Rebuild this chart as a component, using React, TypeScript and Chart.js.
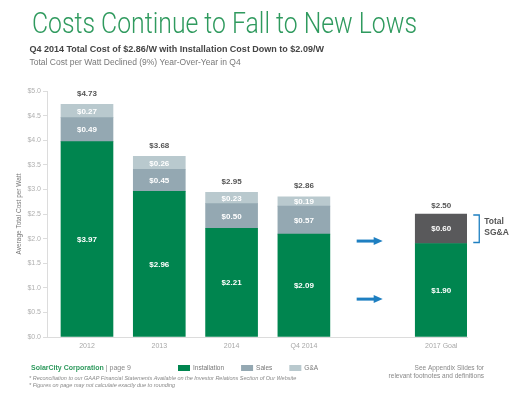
import React, { useEffect, useRef } from 'react';
import { Chart, registerables } from 'chart.js';

Chart.register(...registerables);

// ---- data ----
const categories = ['2012', '2013', '2014', 'Q4 2014', '2017 Goal'];
const installation = [3.97, 2.96, 2.21, 2.09, 1.9];
const sales = [0.49, 0.45, 0.5, 0.57];
const gAndA = [0.27, 0.26, 0.23, 0.19];
const sgaGoal = [0.6];
const totalLabels = ['$4.73', '$3.68', '$2.95', '$2.86', '$2.50'];
const arrowLevels = [1.95, 0.77];

// ---- layout (category placement on the linear axis) ----
const xPositions = [0, 1, 2, 3, 4.9];
const GOAL_INDEX = 4;

const SANS = '"Liberation Sans", Arial, Helvetica, sans-serif';
const GREEN = '#00854f';
const SALES = '#94a8b2';
const GA = '#b9c9ce';
const SGA = '#59595b';
const BLUE = '#1e7fc1';

const overlayPlugin = {
  id: 'overlay',
  afterDatasetsDraw(chart: any) {
    const ctx = chart.ctx as CanvasRenderingContext2D;
    const xs = chart.scales.x;
    const ys = chart.scales.y;
    ctx.save();
    const tops: number[] = categories.map(() => Infinity);
    chart.data.datasets.forEach((ds: any, di: number) => {
      const meta = chart.getDatasetMeta(di);
      meta.data.forEach((el: any, i: number) => {
        const pt = ds.data[i];
        const ci = xPositions.indexOf(pt.x);
        const p = el.getProps(['x', 'y', 'base'], true);
        tops[ci] = Math.min(tops[ci], p.y);
        ctx.fillStyle = '#ffffff';
        ctx.font = `bold 8px ${SANS}`;
        ctx.textAlign = 'center';
        ctx.textBaseline = 'middle';
        ctx.fillText('$' + pt.y.toFixed(2), p.x, (p.y + p.base) / 2 + 0.5);
      });
    });
    // totals
    totalLabels.forEach((t, i) => {
      const px = xs.getPixelForValue(xPositions[i]);
      ctx.fillStyle = '#555555';
      ctx.font = `bold 8px ${SANS}`;
      ctx.textAlign = 'center';
      ctx.textBaseline = 'middle';
      ctx.fillText(t, px, tops[i] - (i === GOAL_INDEX ? 8 : 10.5));
    });
    // arrows
    ctx.strokeStyle = BLUE;
    ctx.fillStyle = BLUE;
    arrowLevels.forEach((lv) => {
      const y = ys.getPixelForValue(lv);
      const x0 = xs.getPixelForValue(3.73);
      const x1 = xs.getPixelForValue(4.09);
      ctx.lineWidth = 3;
      ctx.beginPath();
      ctx.moveTo(x0, y);
      ctx.lineTo(x1 - 7, y);
      ctx.stroke();
      ctx.beginPath();
      ctx.moveTo(x1, y);
      ctx.lineTo(x1 - 9, y - 4);
      ctx.lineTo(x1 - 9, y + 4);
      ctx.closePath();
      ctx.fill();
    });
    // bracket around SG&A
    const gx = xs.getPixelForValue(xPositions[GOAL_INDEX]);
    const yTop = ys.getPixelForValue(installation[GOAL_INDEX] + sgaGoal[0]);
    const yBot = ys.getPixelForValue(installation[GOAL_INDEX]);
    const bx0 = gx + 32;
    const bx1 = gx + 38;
    ctx.lineWidth = 1.3;
    ctx.beginPath();
    ctx.moveTo(bx0, yTop + 1);
    ctx.lineTo(bx1, yTop + 1);
    ctx.lineTo(bx1, yBot - 1);
    ctx.lineTo(bx0, yBot - 1);
    ctx.stroke();
    ctx.fillStyle = '#555555';
    ctx.font = `bold 8.5px ${SANS}`;
    ctx.textAlign = 'left';
    ctx.textBaseline = 'middle';
    ctx.fillText('Total', bx1 + 5, yTop + 8);
    ctx.fillText('SG&A', bx1 + 5, yTop + 19);
    ctx.restore();
  },
  afterDraw(chart: any) {
    const ctx = chart.ctx as CanvasRenderingContext2D;
    ctx.save();
    ctx.textBaseline = 'alphabetic';
    ctx.textAlign = 'left';
    // header title, fitted to the reference width
    const title = 'Costs Continue to Fall to New Lows';
    ctx.fillStyle = '#2f9a5e';
    ctx.font = `300 30px Roboto, ${SANS}`;
    const tw = ctx.measureText(title).width;
    const sx = 385 / tw;
    ctx.save();
    ctx.translate(32, 33);
    ctx.scale(sx, 1);
    ctx.fillText(title, 0, 0);
    ctx.restore();

    ctx.fillStyle = '#444444';
    ctx.font = `bold 9px ${SANS}`;
    ctx.fillText('Q4 2014 Total Cost of $2.86/W with Installation Cost Down to $2.09/W', 29.5, 51.5);
    ctx.fillStyle = '#777777';
    ctx.font = `8.5px ${SANS}`;
    ctx.fillText('Total Cost per Watt Declined (9%) Year-Over-Year in Q4', 29.5, 64.5);

    // footer left
    ctx.fillStyle = '#2f9a5e';
    ctx.font = `bold 7px ${SANS}`;
    const brand = 'SolarCity Corporation';
    ctx.fillText(brand, 31, 370);
    const bw = ctx.measureText(brand).width;
    ctx.fillStyle = '#888888';
    ctx.font = `7px ${SANS}`;
    ctx.fillText('| page 9', 31 + bw + 2, 370);
    ctx.font = `italic 5.5px ${SANS}`;
    ctx.fillText('* Reconciliation to our GAAP Financial Statements Available on the Investor Relations Section of Our Website', 29, 379.5);
    ctx.fillText('* Figures on page may not calculate exactly due to rounding', 29, 387);

    // footer right
    ctx.textAlign = 'right';
    ctx.font = `6.5px ${SANS}`;
    ctx.fillText('See Appendix Slides for', 484, 370);
    ctx.fillText('relevant footnotes and definitions', 484, 378);

    // legend (from datasets, goal-only series excluded)
    ctx.textAlign = 'left';
    ctx.textBaseline = 'middle';
    ctx.font = `6.5px ${SANS}`;
    let lx = 178;
    const ly = 368;
    chart.data.datasets.slice(0, 3).forEach((ds: any) => {
      ctx.fillStyle = ds.backgroundColor;
      ctx.fillRect(lx, ly - 3, 12, 6);
      ctx.fillStyle = '#777777';
      ctx.fillText(ds.label, lx + 15, ly + 0.5);
      lx += 15 + ctx.measureText(ds.label).width + 17;
    });
    ctx.restore();
  },
};

export default function App() {
  const ref = useRef<HTMLCanvasElement | null>(null);
  useEffect(() => {
    document.body.style.margin = '0';
    const canvas = ref.current;
    if (!canvas) return;
    const toPts = (arr: number[], offset = 0) =>
      arr.map((v, i) => ({ x: xPositions[i + offset], y: v }));
    const chart = new Chart(canvas, {
      type: 'bar',
      data: {
        datasets: [
          { label: 'Installation', data: toPts(installation), backgroundColor: GREEN, barThickness: 52 },
          { label: 'Sales', data: toPts(sales), backgroundColor: SALES, barThickness: 52 },
          { label: 'G&A', data: toPts(gAndA), backgroundColor: GA, barThickness: 52 },
          { label: 'SG&A', data: toPts(sgaGoal, GOAL_INDEX), backgroundColor: SGA, barThickness: 52 },
        ],
      } as any,
      options: {
        responsive: false,
        animation: false,
        devicePixelRatio: 1,
        layout: { padding: { left: 12, right: 51, top: 91, bottom: 42 } },
        plugins: { legend: { display: false }, tooltip: { enabled: false }, title: { display: false } },
        scales: {
          x: {
            type: 'linear',
            stacked: true,
            offset: false,
            min: -0.553,
            max: 5.256,
            afterBuildTicks: (s: any) => {
              s.ticks = xPositions.map((v) => ({ value: v }));
            },
            afterFit: (s: any) => {
              s.height = 20;
            },
            ticks: {
              autoSkip: false,
              maxRotation: 0,
              padding: 5,
              color: '#a8a8a8',
              font: { size: 7, family: SANS },
              callback: (_v: any, i: number) => categories[i],
            },
            grid: { drawOnChartArea: false, drawTicks: false, color: '#dcdcdc' },
            border: { display: true, color: '#dcdcdc' },
          },
          y: {
            stacked: true,
            min: 0,
            max: 5,
            afterFit: (s: any) => {
              s.width = 35;
            },
            ticks: {
              stepSize: 0.5,
              padding: 2,
              color: '#b0b0b0',
              font: { size: 7, family: SANS },
              callback: (v: any) => '$' + Number(v).toFixed(1),
            },
            grid: { drawOnChartArea: false, drawTicks: true, tickLength: 4, color: '#dcdcdc' },
            border: { display: true, color: '#dcdcdc' },
            title: {
              display: true,
              text: 'Average Total Cost per Watt',
              color: '#777777',
              font: { size: 6.5, family: SANS },
              padding: { top: 3, bottom: 0 },
            },
          },
        },
      } as any,
      plugins: [overlayPlugin],
    });
    return () => chart.destroy();
  }, []);
  return <canvas ref={ref} width={518} height={399} style={{ display: 'block' }} />;
}
